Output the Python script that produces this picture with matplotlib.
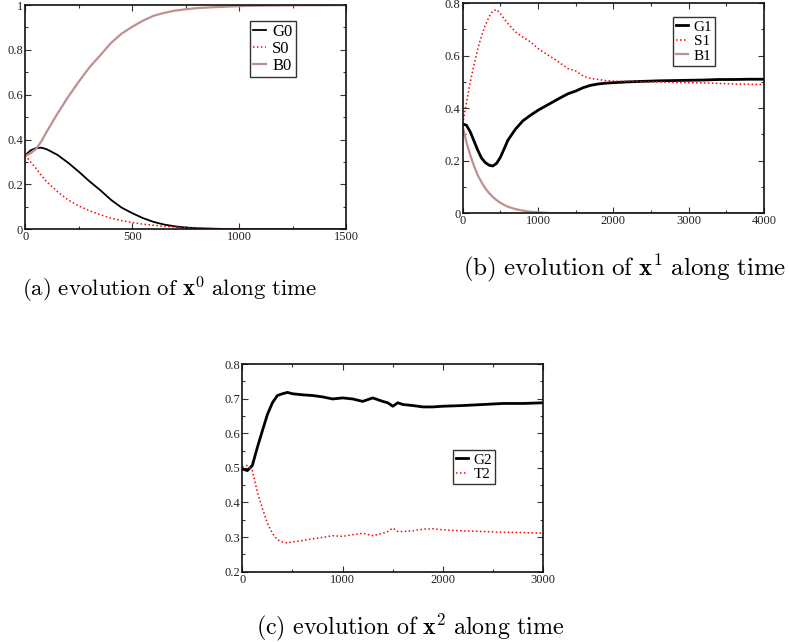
import matplotlib
matplotlib.use("Agg")
import matplotlib.pyplot as plt
from matplotlib.ticker import MultipleLocator, FuncFormatter

# ---------------- data ----------------
t0 = [0, 25, 50, 75, 100, 150, 200, 250, 300, 350, 400, 450, 500, 550, 600, 650,
      700, 750, 800, 900, 1000, 1100, 1200, 1300, 1400, 1500]
G0 = [0.33, 0.352, 0.362, 0.364, 0.357, 0.332, 0.297, 0.257, 0.214, 0.175, 0.132, 0.097,
      0.072, 0.05, 0.033, 0.021, 0.013, 0.008, 0.005, 0.002, 0.001, 0.0, 0.0, 0.0, 0.0, 0.0]
S0 = [0.33, 0.3, 0.272, 0.24, 0.212, 0.168, 0.131, 0.104, 0.083, 0.065, 0.05, 0.039,
      0.03, 0.023, 0.018, 0.013, 0.01, 0.007, 0.005, 0.003, 0.001, 0.0, 0.0, 0.0, 0.0, 0.0]
B0 = [0.327, 0.339, 0.358, 0.392, 0.435, 0.515, 0.59, 0.658, 0.722, 0.775, 0.83, 0.872,
      0.903, 0.93, 0.952, 0.965, 0.975, 0.981, 0.986, 0.991, 0.995, 0.997, 0.998, 0.999, 0.999, 1.0]

t1 = [0, 50, 100, 150, 200, 250, 300, 350, 400, 450, 500, 550, 600, 700, 800, 900, 1000,
      1100, 1200, 1300, 1400, 1500, 1600, 1700, 1800, 1900, 2000, 2200, 2400, 2600, 2800,
      3000, 3200, 3400, 3600, 3800, 4000]
G1 = [0.34, 0.335, 0.31, 0.275, 0.24, 0.21, 0.193, 0.183, 0.18, 0.19, 0.213, 0.245, 0.278,
      0.32, 0.352, 0.373, 0.392, 0.408, 0.424, 0.44, 0.455, 0.465, 0.478, 0.487, 0.492, 0.495,
      0.497, 0.5, 0.502, 0.504, 0.505, 0.506, 0.507, 0.509, 0.509, 0.51, 0.51]
S1 = [0.34, 0.42, 0.5, 0.565, 0.625, 0.675, 0.715, 0.748, 0.77, 0.775, 0.76, 0.74, 0.722,
      0.69, 0.67, 0.652, 0.627, 0.608, 0.59, 0.57, 0.55, 0.542, 0.522, 0.513, 0.509, 0.505,
      0.503, 0.502, 0.5, 0.5, 0.498, 0.497, 0.496, 0.494, 0.492, 0.491, 0.49]
B1 = [0.33, 0.27, 0.222, 0.18, 0.145, 0.118, 0.095, 0.077, 0.062, 0.05, 0.04, 0.032, 0.025,
      0.016, 0.01, 0.006, 0.004, 0.002, 0.0, 0.0, 0.0, 0.0, 0.0, 0.0, 0.0, 0.0,
      0.0, 0.0, 0.0, 0.0, 0.0, 0.0, 0.0, 0.0, 0.0, 0.0, 0.0]

t2 = [0, 50, 100, 150, 200, 250, 300, 350, 400, 450, 500, 600, 700, 800, 900, 1000, 1100,
      1200, 1300, 1400, 1450, 1500, 1550, 1600, 1700, 1800, 1900, 2000, 2200, 2400, 2600,
      2800, 3000]
G2 = [0.497, 0.492, 0.507, 0.559, 0.607, 0.654, 0.688, 0.709, 0.714, 0.718, 0.714, 0.711,
      0.709, 0.705, 0.699, 0.702, 0.699, 0.692, 0.702, 0.692, 0.688, 0.678, 0.688, 0.683,
      0.68, 0.676, 0.676, 0.678, 0.68, 0.683, 0.686, 0.686, 0.688]
T2 = [0.502, 0.507, 0.492, 0.43, 0.383, 0.34, 0.311, 0.292, 0.286, 0.283, 0.286, 0.29,
      0.295, 0.299, 0.304, 0.302, 0.307, 0.311, 0.304, 0.311, 0.316, 0.326, 0.316, 0.316,
      0.318, 0.323, 0.324, 0.321, 0.318, 0.316, 0.314, 0.313, 0.311]

labels_a = ["G0", "S0", "B0"]
labels_b = ["G1", "S1", "B1"]
labels_c = ["G2", "T2"]
captions = [r"$\mathrm{(a)\ evolution\ of\ }\mathbf{x}^{\mathbf{0}}\mathrm{\ along\ time}$",
            r"$\mathrm{(b)\ evolution\ of\ }\mathbf{x}^{\mathbf{1}}\mathrm{\ along\ time}$",
            r"$\mathrm{(c)\ evolution\ of\ }\mathbf{x}^{\mathbf{2}}\mathrm{\ along\ time}$"]

# ---------------- style ----------------
plt.rcParams["mathtext.fontset"] = "cm"
plt.rcParams["font.family"] = ["Liberation Serif", "DejaVu Serif"]

BLACK = "#000000"
RED = "#ff0000"
ROSY = "#bf9090"

W, H = 789, 642
fig = plt.figure(figsize=(W / 100, H / 100), dpi=100)


def px_axes(x0, y0, x1, y1):
    return fig.add_axes([x0 / W, 1 - y1 / H, (x1 - x0) / W, (y1 - y0) / H])


def style(ax, xmaj, xmin, ymaj, ymin, xlim, ylim):
    ax.set_xlim(*xlim)
    ax.set_ylim(*ylim)
    ax.xaxis.set_major_locator(MultipleLocator(xmaj))
    ax.xaxis.set_minor_locator(MultipleLocator(xmin))
    ax.yaxis.set_major_locator(MultipleLocator(ymaj))
    ax.yaxis.set_minor_locator(MultipleLocator(ymin))
    ax.yaxis.set_major_formatter(FuncFormatter(lambda v, p: "%g" % round(v, 3)))
    ax.xaxis.set_major_formatter(FuncFormatter(lambda v, p: "%g" % round(v, 3)))
    ax.tick_params(which="both", direction="in", top=True, right=True,
                   labelsize=9, width=0.8, colors="#333333", labelcolor="#222222")
    ax.tick_params(which="major", length=4.5)
    ax.tick_params(which="minor", length=2.5)
    ax.tick_params(axis="y", pad=1.5)
    ax.tick_params(axis="x", pad=1.5)
    for s in ax.spines.values():
        s.set_linewidth(1.2)
        s.set_color("#111111")


def legend(ax, anchor, fs):
    leg = ax.legend(loc="upper left", bbox_to_anchor=anchor, borderaxespad=0,
                    frameon=True, fancybox=False, shadow=False, fontsize=fs,
                    handlelength=0.8, handletextpad=0.35, borderpad=0.2,
                    labelspacing=0.05)
    leg.get_frame().set_edgecolor("black")
    leg.get_frame().set_linewidth(1.0)
    return leg


DOT = (0, (1, 1.6))

# (a)
axa = px_axes(25.3, 5, 346, 229.3)
axa.plot(t0, G0, color=BLACK, lw=1.3, label=labels_a[0])
axa.plot(t0, S0, color=RED, lw=1.1, ls=DOT, label=labels_a[1])
axa.plot(t0, B0, color=ROSY, lw=1.6, label=labels_a[2])
style(axa, 500, 250, 0.2, 0.1, (0, 1500), (0, 1))
legend(axa, (0.70, 0.929), 12)

# (b)
axb = px_axes(462.7, 3, 764, 213.3)
axb.plot(t1, G1, color=BLACK, lw=2.0, label=labels_b[0])
axb.plot(t1, S1, color=RED, lw=1.1, ls=DOT, label=labels_b[1])
axb.plot(t1, B1, color=ROSY, lw=1.6, label=labels_b[2])
style(axb, 1000, 500, 0.2, 0.1, (0, 4000), (0, 0.8))
legend(axb, (0.698, 0.933), 11)

# (c)
axc = px_axes(242.3, 364, 543.3, 571.7)
axc.plot(t2, G2, color=BLACK, lw=2.0, label=labels_c[0])
axc.plot(t2, T2, color=RED, lw=1.1, ls=DOT, label=labels_c[1])
style(axc, 1000, 500, 0.1, 0.05, (0, 3000), (0.2, 0.8))
legend(axc, (0.70, 0.586), 11)

# captions
fig.text(22 / W, 1 - 290 / H, captions[0], fontsize=16.5, ha="left", va="center")
fig.text(463 / W, 1 - 268 / H, captions[1], fontsize=18, ha="left", va="center")
fig.text(256 / W, 1 - 627 / H, captions[2], fontsize=17.3, ha="left", va="center")

fig.savefig("out.png", dpi=100)
